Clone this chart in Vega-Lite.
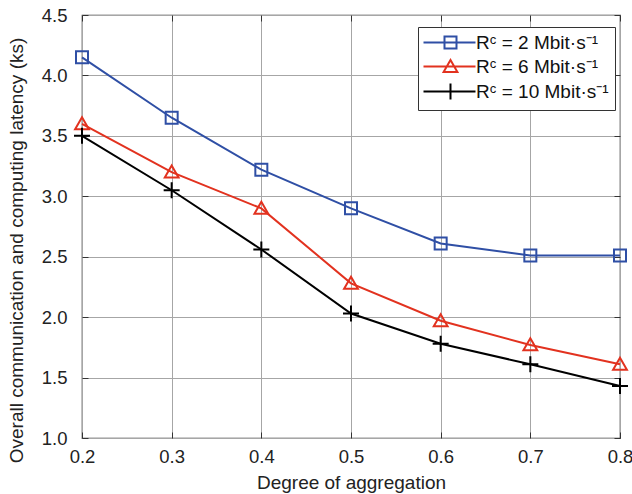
{
  "$schema": "https://vega.github.io/schema/vega-lite/v6.json",
  "width": 538,
  "height": 423,
  "autosize": {"type": "none"},
  "padding": {"left": 82, "top": 15, "right": 12, "bottom": 56},
  "background": "white",
  "config": {
    "font": "Liberation Sans",
    "view": {"stroke": "#333333", "strokeWidth": 1.2},
    "axis": {
      "labelFont": "Liberation Sans",
      "titleFont": "Liberation Sans",
      "labelFontSize": 18.5,
      "titleFontSize": 19,
      "titleFontWeight": "normal",
      "labelColor": "#222222",
      "titleColor": "#222222",
      "labelFlush": false,
      "gridColor": "#a6a6a6",
      "gridOpacity": 1,
      "gridWidth": 1,
      "domain": false,
      "ticks": true,
      "tickSize": -6,
      "tickColor": "#333333",
      "tickWidth": 1
    }
  },
  "resolve": {"axis": {"x": "independent", "y": "independent"}},
  "data": {
    "values": [
      {"series": "Rᶜ = 2 Mbit·s⁻¹", "x": 0.2, "y": 4.15},
      {"series": "Rᶜ = 2 Mbit·s⁻¹", "x": 0.3, "y": 3.65},
      {"series": "Rᶜ = 2 Mbit·s⁻¹", "x": 0.4, "y": 3.22},
      {"series": "Rᶜ = 2 Mbit·s⁻¹", "x": 0.5, "y": 2.90},
      {"series": "Rᶜ = 2 Mbit·s⁻¹", "x": 0.6, "y": 2.61},
      {"series": "Rᶜ = 2 Mbit·s⁻¹", "x": 0.7, "y": 2.51},
      {"series": "Rᶜ = 2 Mbit·s⁻¹", "x": 0.8, "y": 2.51},
      {"series": "Rᶜ = 6 Mbit·s⁻¹", "x": 0.2, "y": 3.60},
      {"series": "Rᶜ = 6 Mbit·s⁻¹", "x": 0.3, "y": 3.20},
      {"series": "Rᶜ = 6 Mbit·s⁻¹", "x": 0.4, "y": 2.90},
      {"series": "Rᶜ = 6 Mbit·s⁻¹", "x": 0.5, "y": 2.28},
      {"series": "Rᶜ = 6 Mbit·s⁻¹", "x": 0.6, "y": 1.97},
      {"series": "Rᶜ = 6 Mbit·s⁻¹", "x": 0.7, "y": 1.77},
      {"series": "Rᶜ = 6 Mbit·s⁻¹", "x": 0.8, "y": 1.61},
      {"series": "Rᶜ = 10 Mbit·s⁻¹", "x": 0.2, "y": 3.50},
      {"series": "Rᶜ = 10 Mbit·s⁻¹", "x": 0.3, "y": 3.05},
      {"series": "Rᶜ = 10 Mbit·s⁻¹", "x": 0.4, "y": 2.56},
      {"series": "Rᶜ = 10 Mbit·s⁻¹", "x": 0.5, "y": 2.03},
      {"series": "Rᶜ = 10 Mbit·s⁻¹", "x": 0.6, "y": 1.78},
      {"series": "Rᶜ = 10 Mbit·s⁻¹", "x": 0.7, "y": 1.61},
      {"series": "Rᶜ = 10 Mbit·s⁻¹", "x": 0.8, "y": 1.43}
    ]
  },
  "layer": [
    {
      "mark": {"type": "line", "strokeWidth": 2},
      "encoding": {
        "x": {
          "field": "x", "type": "quantitative",
          "scale": {"domain": [0.2, 0.8], "nice": false, "zero": false},
          "axis": {"orient": "top", "values": [0.2, 0.3, 0.4, 0.5, 0.6, 0.7, 0.8], "labels": false, "title": null, "grid": false}
        },
        "y": {
          "field": "y", "type": "quantitative",
          "scale": {"domain": [1, 4.5], "nice": false, "zero": false},
          "axis": {"orient": "right", "values": [1, 1.5, 2, 2.5, 3, 3.5, 4, 4.5], "labels": false, "title": null, "grid": false}
        },
        "stroke": {
          "field": "series", "type": "nominal",
          "scale": {"domain": ["Rᶜ = 2 Mbit·s⁻¹", "Rᶜ = 6 Mbit·s⁻¹", "Rᶜ = 10 Mbit·s⁻¹"], "range": ["#2f4fa5", "#e2321f", "#000000"]},
          "legend": {
            "title": null,
            "orient": "none",
            "legendX": 336,
            "legendY": 12,
            "strokeColor": "#333333",
            "fillColor": "white",
            "padding": 6,
            "rowPadding": 2,
            "symbolSize": 144,
            "symbolStrokeWidth": 2,
            "labelOffset": 33,
            "labelFont": "Liberation Sans",
            "labelFontSize": 19,
            "labelColor": "#111111",
            "labelLimit": 300,
            "encode": {
              "symbols": {
                "update": {
                  "shape": {"signal": "datum.index === 0 ? 'M-1.667,0H7M1.833,-1H3.833V1H1.833Z' : datum.index === 1 ? 'M-1.667,0H7M1.683,0.9L2.833,-1.1L3.983,0.9Z' : 'M-1.667,0H7M2.833,-1.333V1.333'"},
                  "fill": {"value": "transparent"},
                  "strokeWidth": {"value": 2}
                }
              }
            }
          }
        }
      }
    },
    {
      "mark": {"type": "point", "filled": false, "strokeWidth": 2, "size": 144, "opacity": 1},
      "encoding": {
        "x": {
          "field": "x", "type": "quantitative",
          "scale": {"domain": [0.2, 0.8], "nice": false, "zero": false},
          "axis": {"grid": true, "values": [0.2, 0.3, 0.4, 0.5, 0.6, 0.7, 0.8], "format": ".1f", "title": "Degree of aggregation", "labelPadding": 15, "titlePadding": 8}
        },
        "y": {
          "field": "y", "type": "quantitative",
          "scale": {"domain": [1, 4.5], "nice": false, "zero": false},
          "axis": {"grid": true, "values": [1, 1.5, 2, 2.5, 3, 3.5, 4, 4.5], "format": ".1f", "title": "Overall communication and computing latency (ks)", "labelPadding": 21, "titlePadding": 15, "titleY": 235}
        },
        "color": {
          "field": "series", "type": "nominal",
          "scale": {"domain": ["Rᶜ = 10 Mbit·s⁻¹", "Rᶜ = 2 Mbit·s⁻¹", "Rᶜ = 6 Mbit·s⁻¹"], "range": ["#000000", "#2f4fa5", "#e2321f"]},
          "legend": null
        },
        "shape": {
          "field": "series", "type": "nominal",
          "scale": {"domain": ["Rᶜ = 6 Mbit·s⁻¹", "Rᶜ = 10 Mbit·s⁻¹", "Rᶜ = 2 Mbit·s⁻¹"], "range": ["M-1.15,0.9L0,-1.1L1.15,0.9Z", "M-1.333,0H1.333M0,-1.333V1.333", "square"]},
          "legend": null
        }
      }
    }
  ]
}
